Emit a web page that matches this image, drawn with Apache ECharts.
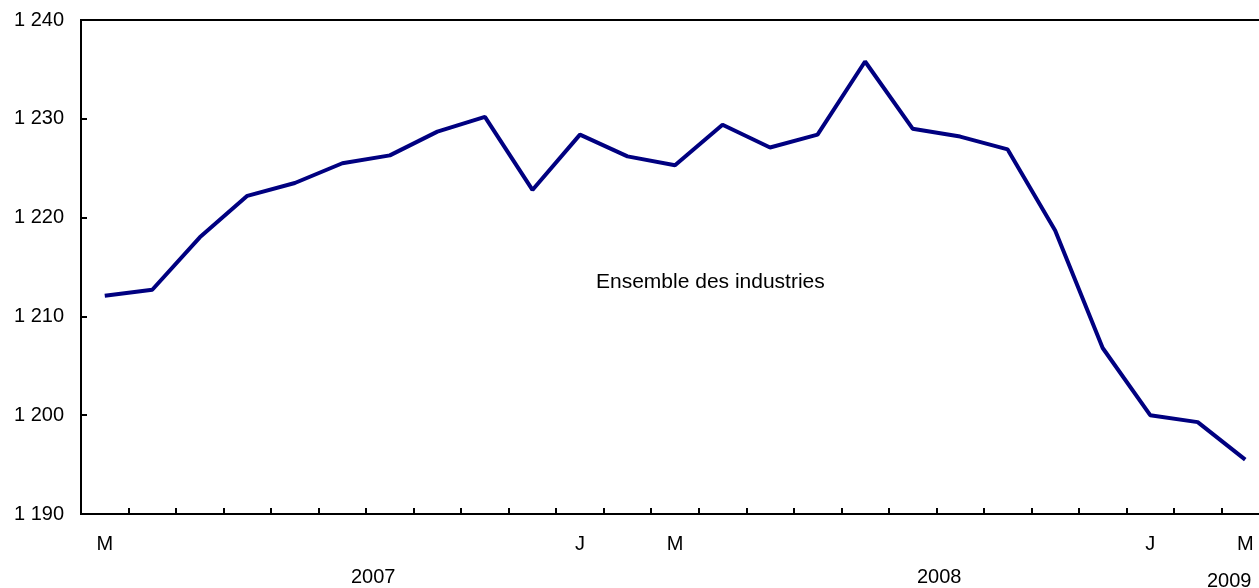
<!DOCTYPE html>
<html>
<head>
<meta charset="utf-8">
<script src="https://cdn.jsdelivr.net/npm/echarts@6/dist/echarts.min.js"></script>
<style>
  html, body { margin: 0; padding: 0; background: #fff; overflow: hidden; }
  /* le graphique déborde à droite, comme dans l'original */
  #chart { width: 1269px; height: 588px; }
</style>
</head>
<body>
<div id="chart"></div>
<script>
// mois de mars 2007 à mars 2009
var months = ['M', 'A', 'M', 'J', 'J', 'A', 'S', 'O', 'N', 'D', 'J', 'F',
  'M', 'A', 'M', 'J', 'J', 'A', 'S', 'O', 'N', 'D', 'J', 'F', 'M'];
var shownLabels = [0, 10, 12, 22, 24];
var values = [1212.1, 1212.7, 1218.0, 1222.2, 1223.5, 1225.5, 1226.3, 1228.7, 1230.2, 1222.8,
  1228.4, 1226.2, 1225.3, 1229.4, 1227.1, 1228.4, 1235.8, 1229.0, 1228.2, 1226.9,
  1218.7, 1206.8, 1200.0, 1199.3, 1195.5];
var seriesName = 'Ensemble des industries';
var years = ['2007', '2008', '2009'];

var font = '"Liberation Sans", Arial, sans-serif';
var myChart = echarts.init(document.getElementById('chart'));

var option = {
  backgroundColor: '#ffffff',
  animation: false,
  grid: {
    left: 81,
    right: 0,
    top: 20,
    bottom: 74,
    show: true,
    borderColor: '#000',
    borderWidth: 2
  },
  xAxis: {
    type: 'category',
    data: months,
    boundaryGap: true,
    axisLine: { lineStyle: { color: '#000', width: 2 } },
    axisTick: { show: true, inside: true, length: 6, interval: 0, lineStyle: { color: '#000', width: 2 } },
    axisLabel: {
      interval: function (i) { return shownLabels.indexOf(i) >= 0; },
      color: '#000',
      fontFamily: font,
      fontSize: 20,
      margin: 20
    },
    splitLine: { show: false }
  },
  yAxis: {
    type: 'value',
    min: 1190,
    max: 1240,
    interval: 10,
    axisLine: { show: true, lineStyle: { color: '#000', width: 2 } },
    axisTick: { show: true, inside: true, length: 6, lineStyle: { color: '#000', width: 2 } },
    axisLabel: {
      color: '#000',
      fontFamily: font,
      fontSize: 20,
      margin: 17,
      formatter: function (v) {
        return String(v).replace(/\B(?=(\d{3})+(?!\d))/g, ' ');
      }
    },
    splitLine: { show: false }
  },
  series: [{
    name: seriesName,
    type: 'line',
    data: values,
    symbol: 'none',
    lineStyle: { color: '#000080', width: 4 }
  }],
  graphic: [
    { type: 'text', left: 596, top: 272, style: { text: seriesName, fill: '#000', font: '21px ' + font } },
    { type: 'text', left: 351, top: 567, style: { text: years[0], fill: '#000', font: '20px ' + font } },
    { type: 'text', left: 917, top: 567, style: { text: years[1], fill: '#000', font: '20px ' + font } },
    { type: 'text', left: 1207, top: 571, style: { text: years[2], fill: '#000', font: '20px ' + font } }
  ]
};
myChart.setOption(option);
</script>
</body>
</html>
